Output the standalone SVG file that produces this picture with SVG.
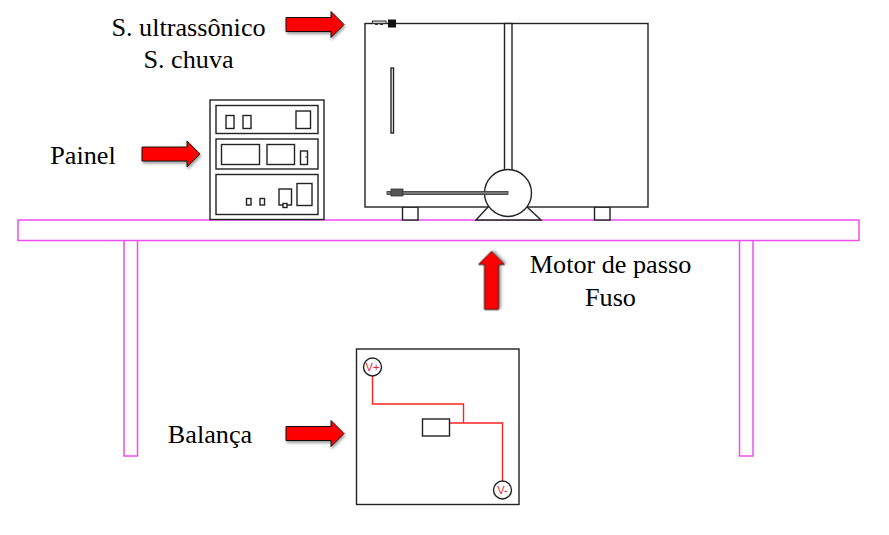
<svg xmlns="http://www.w3.org/2000/svg" width="889" height="535" viewBox="0 0 889 535">
<defs>
<filter id="sh" x="-20%" y="-20%" width="150%" height="150%"><feDropShadow dx="1" dy="2" stdDeviation="1.5" flood-color="#000" flood-opacity="0.4"/></filter>
<path id="arrowR" d="M0 -7H45V-13L58 0L45 13V7H0Z"/>
</defs>
<style>
text{font-family:"Liberation Serif","Times New Roman",serif;font-size:26.200px;fill:#000;text-anchor:middle}
.l{fill:#fff;stroke:#222;stroke-width:1.4}
.n{fill:none;stroke:#222;stroke-width:1.4}
.m{fill:#fff;stroke:#f04cf0;stroke-width:1.5}
.a{fill:#f00;stroke:#111;stroke-width:1;filter:url(#sh)}
.r{fill:none;stroke:#f22;stroke-width:1.4}
text.v{font-family:"Liberation Sans",Arial,sans-serif;font-size:11px;fill:#e22}
</style>
<g id="mesa">
<rect class="m" x="124" y="240" width="13.500" height="216"/>
<rect class="m" x="739.500" y="240" width="13.500" height="216"/>
<rect class="m" x="18" y="220" width="841" height="20.500"/>
</g>
<g id="camara">
<rect class="l" x="402.500" y="207" width="15.500" height="13"/>
<rect class="l" x="594.500" y="207" width="15.500" height="13"/>
<rect class="l" x="365" y="23.500" width="283" height="183.500"/>
<rect class="l" x="504.500" y="23.500" width="7.500" height="150"/>
<rect class="l" x="391" y="68" width="2.500" height="65"/>
</g>
<g id="sensor">
<rect x="372.500" y="21" width="13.500" height="2.500" fill="#ccc" stroke="#333"/>
<rect x="375" y="23.500" width="3" height="1.500" fill="#333"/>
<rect x="380" y="23.500" width="3" height="1.500" fill="#333"/>
<rect x="388" y="19.500" width="8" height="8" fill="#111"/>
</g>
<g id="motor">
<path class="l" d="M488 207L476 220H541L527 207Z"/>
<circle class="l" cx="508" cy="193" r="23.500"/>
<rect x="387" y="191.500" width="121" height="3" fill="#777" stroke="#333" stroke-width="0.800"/>
<rect x="391" y="189" width="12" height="7" fill="#555" stroke="#333" stroke-width="0.800"/>
</g>
<g id="painel">
<rect class="l" x="210" y="100" width="114" height="119.500"/>
<rect class="l" x="216" y="105.500" width="102" height="28"/>
<rect class="n" x="226" y="115.500" width="8" height="13"/>
<rect class="n" x="243" y="115.500" width="8" height="13"/>
<rect class="n" x="296" y="111" width="14.500" height="17.500"/>
<rect class="l" x="216" y="139" width="102" height="30"/>
<rect class="n" x="221.500" y="144.500" width="38" height="20"/>
<rect class="n" x="267" y="144.500" width="27.500" height="20"/>
<rect class="n" x="300.500" y="151" width="7" height="13.500"/>
<circle cx="306" cy="157" r="0.800" fill="#333"/>
<rect class="l" x="216" y="174.500" width="102" height="40"/>
<rect class="n" x="246.500" y="198.500" width="4.500" height="6.500"/>
<rect class="n" x="260" y="198.500" width="4.500" height="6.500"/>
<rect class="n" x="279" y="189" width="12.500" height="16"/>
<rect class="l" x="283" y="203.500" width="4" height="4"/>
<rect class="n" x="297" y="183.500" width="15" height="22"/>
</g>
<g id="balanca">
<rect class="l" x="356.500" y="349" width="162.500" height="155.500"/>
<path class="r" d="M372.500 375V404H463.500V423M450 423H502.500V482"/>
<rect class="l" x="422.500" y="419" width="27" height="17"/>
<circle class="l" cx="372.500" cy="367" r="9"/>
<circle class="l" cx="502.500" cy="490" r="9"/>
<text class="v" x="372.500" y="371">V+</text>
<text class="v" x="502.500" y="494">V-</text>
</g>
<g id="connectors">
<use href="#arrowR" class="a" x="286" y="24.500"/>
<use href="#arrowR" class="a" x="142" y="154"/>
<use href="#arrowR" class="a" x="286" y="433.500"/>
<use href="#arrowR" class="a" transform="translate(491.500 309.500) rotate(-90)"/>
</g>
<g id="rotulos">
<text x="188.500" y="35.500">S. ultrassônico</text>
<text x="188.500" y="67.500">S. chuva</text>
<text x="83" y="163.500">Painel</text>
<text x="610.500" y="273">Motor de passo</text>
<text x="610.500" y="306">Fuso</text>
<text x="210" y="443">Balança</text>
</g>
</svg>
